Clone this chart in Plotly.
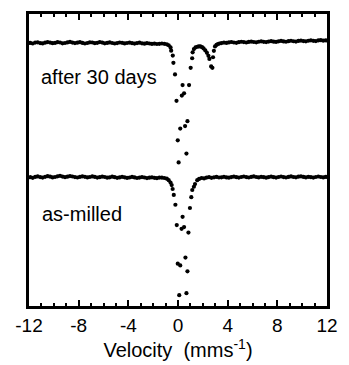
import plotly.graph_objects as go

# Velocity channels (mm/s) for the flat baseline regions
V_LEFT = [-11.9, -11.7, -11.5, -11.3, -11.1, -10.9, -10.7, -10.5, -10.3, -10.1,
          -9.9, -9.7, -9.5, -9.3, -9.1, -8.9, -8.7, -8.5, -8.3, -8.1,
          -7.9, -7.7, -7.5, -7.3, -7.1, -6.9, -6.7, -6.5, -6.3, -6.1,
          -5.9, -5.7, -5.5, -5.3, -5.1, -4.9, -4.7, -4.5, -4.3, -4.1,
          -3.9, -3.7, -3.5, -3.3, -3.1, -2.9, -2.7, -2.5, -2.3, -2.1,
          -1.9, -1.7, -1.5]
V_RIGHT = [3.5, 3.7, 3.9, 4.1, 4.3, 4.5, 4.7, 4.9, 5.1, 5.3,
           5.5, 5.7, 5.9, 6.1, 6.3, 6.5, 6.7, 6.9, 7.1, 7.3,
           7.5, 7.7, 7.9, 8.1, 8.3, 8.5, 8.7, 8.9, 9.1, 9.3,
           9.5, 9.7, 9.9, 10.1, 10.3, 10.5, 10.7, 10.9, 11.1, 11.3,
           11.5, 11.7, 11.9]

# "after 30 days" spectrum (arbitrary transmission units incl. vertical offset)
AGED_LEFT = [267.6, 267.0, 267.9, 268.2, 267.4, 267.1, 267.8, 268.4, 267.9, 267.3,
             267.6, 268.3, 268.0, 267.2, 267.5, 268.1, 268.6, 267.9, 267.4, 267.8,
             268.3, 267.6, 267.0, 267.5, 268.2, 268.0, 267.3, 267.7, 268.4, 267.9,
             267.2, 267.6, 268.1, 267.5, 267.0, 267.4, 268.0, 267.7, 267.1, 267.5,
             267.9, 267.3, 266.9, 267.4, 267.8, 267.2, 266.8, 267.3, 267.0, 266.6,
             266.9, 266.5, 266.7]
AGED_DIP_V = [-1.3, -1.1, -0.9, -0.75, -0.6, -0.55, -0.42, -0.37, -0.24, -0.12,
              -0.02, 0.05, 0.18, 0.31, 0.37, 0.49, 0.57, 0.68, 0.76, 0.89,
              1.02, 1.14, 1.18, 1.28, 1.41, 1.55, 1.67, 1.80, 1.94, 2.06,
              2.20, 2.33, 2.45, 2.53, 2.67, 2.77, 2.82, 2.89, 2.98, 3.10,
              3.22, 3.33]
AGED_DIP_T = [267.0, 266.7, 266.2, 265.2, 263.0, 259.7, 254.7, 247.3, 235.5, 208.7,
              168.5, 146.0, 180.5, 214.0, 224.7, 216.3, 183.0, 155.0, 188.0, 224.7,
              242.3, 252.0, 258.0, 261.3, 263.0, 263.7, 264.0, 264.0, 263.3, 262.0,
              260.0, 257.5, 254.5, 251.3, 243.7, 242.3, 253.0, 259.5, 264.0, 265.5,
              266.5, 267.0]
AGED_RIGHT = [267.4, 267.9, 267.6, 268.1, 268.5, 268.0, 267.7, 268.3, 268.8, 268.4,
              268.0, 268.6, 269.0, 268.5, 268.2, 268.8, 269.2, 268.7, 268.4, 269.0,
              269.4, 268.9, 268.6, 269.2, 269.6, 269.1, 268.8, 269.4, 269.8, 269.3,
              269.0, 269.6, 270.0, 269.5, 269.2, 269.8, 270.2, 269.7, 269.5, 270.1,
              270.4, 269.9, 270.2]

# "as-milled" spectrum
MILL_LEFT = [131.0, 130.4, 131.3, 131.8, 131.1, 130.6, 131.4, 132.0, 131.5, 130.8,
             131.2, 131.9, 132.4, 131.6, 131.0, 131.5, 132.2, 131.7, 131.1, 130.7,
             131.3, 131.9, 131.4, 130.8, 131.2, 131.8, 131.3, 130.6, 131.0, 131.6,
             131.2, 130.5, 130.9, 131.5, 131.0, 130.4, 130.8, 131.4, 130.9, 130.3,
             130.7, 131.3, 130.8, 130.2, 130.6, 131.1, 130.7, 130.1, 130.5, 130.9,
             130.4, 130.0, 130.6]
MILL_DIP_V = [-1.3, -1.1, -0.9, -0.75, -0.6, -0.51, -0.43, -0.34, -0.21, -0.10,
              -0.02, 0.10, 0.18, 0.29, 0.37, 0.49, 0.60, 0.68, 0.76, 0.84,
              0.96, 1.07, 1.15, 1.28, 1.37, 1.55, 1.7, 1.9, 2.1, 2.3,
              2.5, 2.7, 2.9, 3.1, 3.3]
MILL_DIP_T = [130.5, 130.2, 129.5, 128.0, 125.5, 123.0, 119.0, 113.0, 103.0, 82.3,
              43.0, 11.0, 41.3, 78.5, 90.7, 80.3, 49.3, 13.0, 35.3, 74.7,
              99.7, 110.7, 118.0, 121.3, 124.0, 128.0, 129.3, 130.2, 129.8, 130.6,
              131.0, 130.4, 130.9, 131.3, 130.7]
MILL_RIGHT = [130.9, 131.4, 130.8, 130.5, 131.1, 131.6, 131.0, 130.6, 131.2, 131.7,
              131.1, 130.7, 131.3, 131.8, 131.2, 130.8, 131.4, 131.0, 130.5, 131.1,
              131.6, 131.0, 130.6, 131.2, 131.7, 131.1, 130.7, 131.3, 131.8, 131.2,
              130.9, 131.5, 131.9, 131.3, 130.8, 131.4, 131.0, 130.6, 131.2, 131.7,
              131.2, 130.8, 131.3]

LABEL_AGED = "after 30 days"
LABEL_MILL = "as-milled"
TICK_VALS = [-12, -8, -4, 0, 4, 8, 12]
TICK_TEXT = ["-12", "-8", "-4", "0", "4", "8", "12"]

FONT = "Liberation Sans, Arial, Helvetica, sans-serif"

aged_v = V_LEFT + AGED_DIP_V + V_RIGHT
aged_t = AGED_LEFT + AGED_DIP_T + AGED_RIGHT
mill_v = V_LEFT + MILL_DIP_V + V_RIGHT
mill_t = MILL_LEFT + MILL_DIP_T + MILL_RIGHT

marker = dict(color="black", size=4.2, line=dict(width=0))

fig = go.Figure()
fig.add_trace(go.Scatter(x=aged_v, y=aged_t, mode="markers", marker=marker,
                         showlegend=False, hoverinfo="skip"))
fig.add_trace(go.Scatter(x=mill_v, y=mill_t, mode="markers", marker=marker,
                         showlegend=False, hoverinfo="skip"))
# invisible trace to carry the top (mirrored) tick axis
fig.add_trace(go.Scatter(x=[TICK_VALS[0], TICK_VALS[-1]], y=[None, None],
                         xaxis="x2", yaxis="y", mode="markers",
                         showlegend=False, hoverinfo="skip"))

fig.add_annotation(x=-11.2, y=233, xref="x", yref="y", text=LABEL_AGED,
                   showarrow=False, xanchor="left", yanchor="middle",
                   font=dict(family=FONT, size=20, color="black"))
fig.add_annotation(x=-11.15, y=94, xref="x", yref="y", text=LABEL_MILL,
                   showarrow=False, xanchor="left", yanchor="middle",
                   font=dict(family=FONT, size=20, color="black"))

tick_common = dict(
    range=[-12, 12], showgrid=False, zeroline=False,
    ticks="inside", ticklen=6, tickwidth=2, tickcolor="black",
    tickvals=TICK_VALS,
    minor=dict(dtick=1, ticks="inside", ticklen=3, tickwidth=2,
               tickcolor="black", showgrid=False),
)

fig.update_layout(
    width=349, height=365,
    margin=dict(l=29, r=14, t=11, b=57),
    paper_bgcolor="white", plot_bgcolor="white",
    font=dict(family=FONT, color="black"),
    xaxis=dict(
        **tick_common,
        showline=True, linecolor="black", linewidth=3, mirror=True,
        ticktext=TICK_TEXT,
        tickfont=dict(family=FONT, size=19, color="black"),
        title=dict(text="Velocity  (mms<sup>-1</sup>)",
                   font=dict(family=FONT, size=20, color="black"), standoff=4),
    ),
    xaxis2=dict(
        **tick_common,
        overlaying="x", side="top", anchor="y",
        showline=False, showticklabels=False,
    ),
    yaxis=dict(
        range=[0, 297], showgrid=False, zeroline=False,
        showline=True, linecolor="black", linewidth=3, mirror=True,
        ticks="", showticklabels=False,
    ),
)

fig.write_html("out.html")
